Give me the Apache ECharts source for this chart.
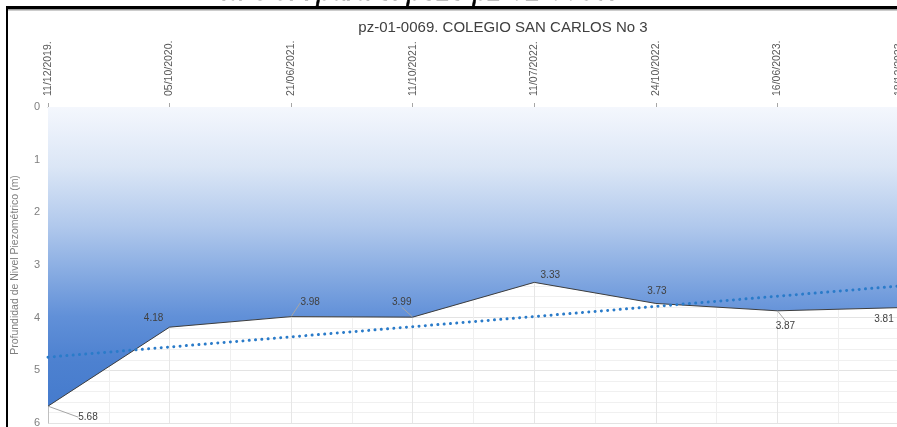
<!DOCTYPE html>
<html>
<head>
<meta charset="utf-8">
<script src="https://cdn.jsdelivr.net/npm/echarts@6/dist/echarts.min.js"></script>
<style>
html,body{margin:0;padding:0;background:#fff;}
#chart{width:897px;height:427px;}
</style>
</head>
<body>
<div id="chart"></div>
<script>
const captionText = 'la CGA para el pozo pz-01-0069.';
const chartTitle = 'pz-01-0069. COLEGIO SAN CARLOS No 3';
const yAxisName = 'Profundidad de Nivel Piezométrico (m)';
const categories = ['11/12/2019.', '05/10/2020.', '21/06/2021.', '11/10/2021.', '11/07/2022.', '24/10/2022.', '16/06/2023.', '18/12/2023.'];
const depthValues = [5.68, 4.18, 3.98, 3.99, 3.33, 3.73, 3.87, 3.81];
const trendValues = [4.75, 3.40]; // trend line read at first and last date
const trendIndices = [0, 7];

const labelOffsets = [[40, 11], [-16, -9], [19, -14], [-11, -15], [16, -7], [1, -12], [8, 15], [-15, 12]];
const leaderShown = [true, false, true, true, false, false, true, false];

const chart = echarts.init(document.getElementById('chart'));

const mainData = depthValues.map((v, i) => ({
  value: [i, v],
  labelLine: { show: leaderShown[i] }
}));
const trendData = trendValues.map((v, i) => [trendIndices[i], v]);

const option = {
  animation: false,
  backgroundColor: '#ffffff',
  title: {
    text: chartTitle,
    left: 498,
    textAlign: 'center',
    top: 15,
    textStyle: { fontFamily: 'Liberation Sans', fontSize: 15, fontWeight: 'normal', color: '#404040' }
  },
  grid: { left: 48, width: 851, top: 107, height: 316, containLabel: false, outerBoundsMode: 'none' },
  xAxis: {
    type: 'value',
    position: 'top',
    min: 0,
    max: categories.length - 1,
    interval: 1,
    axisLine: { show: true, lineStyle: { color: '#bfbfbf', width: 1 } },
    axisTick: { show: true, inside: false, length: 4, lineStyle: { color: '#a6a6a6' } },
    axisLabel: {
      rotate: 90,
      margin: 11,
      fontFamily: 'Liberation Sans',
      fontSize: 10.5,
      color: '#595959',
      showMinLabel: true,
      showMaxLabel: true,
      hideOverlap: false,
      formatter: v => (Number.isInteger(v) ? categories[v] : '')
    },
    splitLine: { show: true, lineStyle: { color: '#e6e6e6', width: 1 } },
    minorTick: { show: false, splitNumber: 2 },
    minorSplitLine: { show: true, lineStyle: { color: '#efefef', width: 1 } }
  },
  yAxis: {
    type: 'value',
    inverse: true,
    min: 0,
    max: 6,
    interval: 1,
    name: yAxisName,
    nameLocation: 'middle',
    nameGap: 27,
    nameRotate: 90,
    nameTextStyle: { fontFamily: 'Liberation Sans', fontSize: 10.5, color: '#7f7f7f' },
    axisLine: { show: true, lineStyle: { color: '#bfbfbf', width: 1 } },
    axisTick: { show: false },
    axisLabel: { margin: 8, fontFamily: 'Liberation Sans', fontSize: 11, color: '#7f7f7f' },
    splitLine: { show: true, lineStyle: { color: '#e3e3e3', width: 1 } },
    minorTick: { show: false, splitNumber: 5 },
    minorSplitLine: { show: true, lineStyle: { color: '#f0f0f0', width: 1 } }
  },
  series: [
    {
      type: 'line',
      data: mainData,
      symbol: 'circle',
      symbolSize: 1,
      showSymbol: true,
      itemStyle: { color: 'rgba(0,0,0,0)' },
      lineStyle: { color: '#3d3d3d', width: 1 },
      areaStyle: {
        origin: 'start',
        opacity: 1,
        color: new echarts.graphic.LinearGradient(0, 0, 0, 1, [
          { offset: 0, color: '#f4f7fd' },
          { offset: 0.2, color: '#dbe6f6' },
          { offset: 0.4, color: '#b0c8ec' },
          { offset: 0.55, color: '#88ace2' },
          { offset: 0.7, color: '#6190d8' },
          { offset: 0.85, color: '#4d81d0' },
          { offset: 1, color: '#457bcd' }
        ])
      },
      label: {
        show: true,
        position: 'inside',
        fontFamily: 'Liberation Sans',
        fontSize: 10,
        color: '#404040',
        formatter: p => p.value[1].toFixed(2)
      },
      labelLine: { show: true, lineStyle: { color: '#a6a6a6', width: 1 } },
      labelLayout: p => ({ dx: labelOffsets[p.dataIndex][0], dy: labelOffsets[p.dataIndex][1] }),
      z: 2
    },
    {
      type: 'line',
      data: trendData,
      symbol: 'none',
      lineStyle: { color: '#2a7bc9', width: 3, type: [0.01, 6.3], cap: 'round' },
      z: 3
    }
  ],
  graphic: [
    {
      type: 'text',
      left: 222,
      top: -21,
      z: 10,
      style: {
        text: captionText,
        font: 'italic 27px "Liberation Sans"',
        fill: '#000000',
        stroke: '#000000',
        lineWidth: 0.6
      }
    },
    { type: 'rect', shape: { x: 6, y: 6, width: 891, height: 3 }, style: { fill: '#000000' }, z: 11 },
    { type: 'rect', shape: { x: 6, y: 9, width: 891, height: 1.5 }, style: { fill: '#9a9a9a' }, z: 11 },
    { type: 'rect', shape: { x: 6, y: 6, width: 2, height: 421 }, style: { fill: '#000000' }, z: 11 }
  ]
};
chart.setOption(option);
</script>
</body>
</html>
